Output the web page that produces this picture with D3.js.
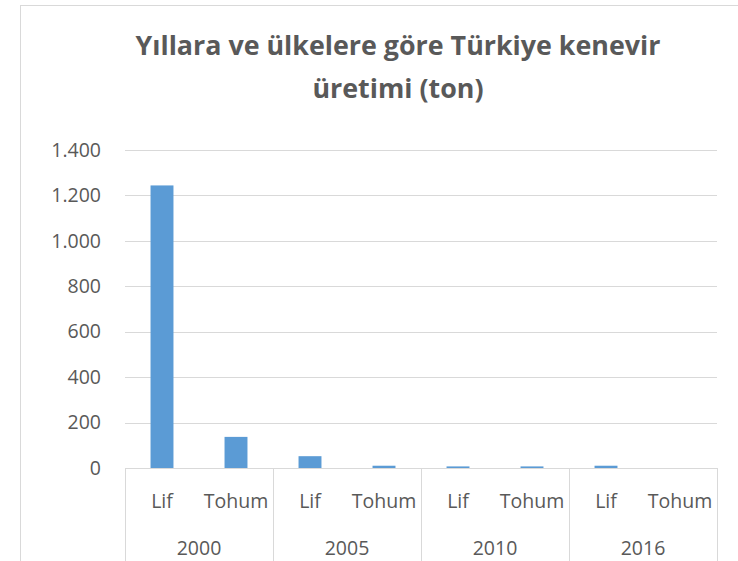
<!DOCTYPE html>
<html><head><meta charset="utf-8">
<script src="https://cdn.jsdelivr.net/npm/d3@7"></script>
<style>body{margin:0;background:#fff;} svg{display:block;}</style>
</head><body>
<script>
const years = ["2000","2005","2010","2016"];
const types = ["Lif","Tohum"];
const lifValues = [1244, 52, 7, 10];
const tohumValues = [137, 10, 7, 0];
const yTicks = [0,200,400,600,800,1000,1200,1400];
const titleLines = ["Yıllara ve ülkelere göre Türkiye kenevir","üretimi (ton)"];

const data = [];
years.forEach((y,i)=>{
  data.push({year:y,type:types[0],value:lifValues[i]});
  data.push({year:y,type:types[1],value:tohumValues[i]});
});

const W=738,H=561;
const svg=d3.select("body").append("svg").attr("width",W).attr("height",H);
svg.append("rect").attr("x",20.5).attr("y",5.5).attr("width",900).attr("height",900)
  .attr("fill","#fff").attr("stroke","#d9d9d9").attr("stroke-width",1);

const L=125,R=717,T=150,B=468;
const x=d3.scaleBand().domain(data.map((d,i)=>i)).range([L,R]).paddingInner(0.69).paddingOuter(0.345);
const y=d3.scaleLinear().domain([0,1400]).range([B,T]);
const font="'Open Sans', sans-serif";
const fs=19.5;

// gridlines
svg.append("g").selectAll("line").data(yTicks).join("line")
  .attr("x1",L).attr("x2",R).attr("y1",d=>Math.round(y(d))+0.5).attr("y2",d=>Math.round(y(d))+0.5)
  .attr("stroke","#d9d9d9").attr("stroke-width",1);

// y axis labels
const yAxis=d3.axisLeft(y).tickValues(yTicks).tickSize(0).tickPadding(0)
  .tickFormat(d=>d3.format(",")(d).replace(/,/g,"."));
const ya=svg.append("g").attr("transform",`translate(${L-24},0)`).call(yAxis);
ya.select(".domain").remove();
ya.selectAll("text").attr("font-family",font).attr("font-size",fs).attr("fill","#595959");

// bars
svg.append("g").selectAll("rect").data(data).join("rect")
  .attr("x",(d,i)=>x(i)).attr("width",x.bandwidth())
  .attr("y",d=>y(d.value)).attr("height",d=>B-y(d.value))
  .attr("fill","#5b9bd5");

// baseline
svg.append("line").attr("x1",L).attr("x2",R).attr("y1",B+0.5).attr("y2",B+0.5)
  .attr("stroke","#d9d9d9").attr("stroke-width",1);

// category axis
const xc=d3.scaleBand().domain(years).range([L,R]);
const dividers=[L].concat(years.map(yy=>xc(yy)+xc.bandwidth()));
svg.append("g").selectAll("line").data(dividers).join("line")
  .attr("x1",d=>Math.round(d)+0.5).attr("x2",d=>Math.round(d)+0.5)
  .attr("y1",B).attr("y2",H)
  .attr("stroke","#d9d9d9").attr("stroke-width",1);

svg.append("g").selectAll("text").data(data).join("text")
  .attr("x",(d,i)=>x(i)+x.bandwidth()/2).attr("y",508)
  .attr("text-anchor","middle").attr("font-family",font).attr("font-size",fs).attr("fill","#595959")
  .text(d=>d.type);

svg.append("g").selectAll("text").data(years).join("text")
  .attr("x",d=>xc(d)+xc.bandwidth()/2).attr("y",555)
  .attr("text-anchor","middle").attr("font-family",font).attr("font-size",fs).attr("fill","#595959")
  .text(d=>d);

// title
const tt=svg.append("g").selectAll("text").data(titleLines).join("text")
  .attr("x",398).attr("y",(d,i)=>55+i*43)
  .attr("text-anchor","middle").attr("font-family",font).attr("font-weight","bold")
  .attr("font-size",24).attr("fill","#595959")
  .text(d=>d);
const w0=tt.nodes()[0].getComputedTextLength();
tt.attr("font-size",24*525/w0);
</script>
</body></html>
